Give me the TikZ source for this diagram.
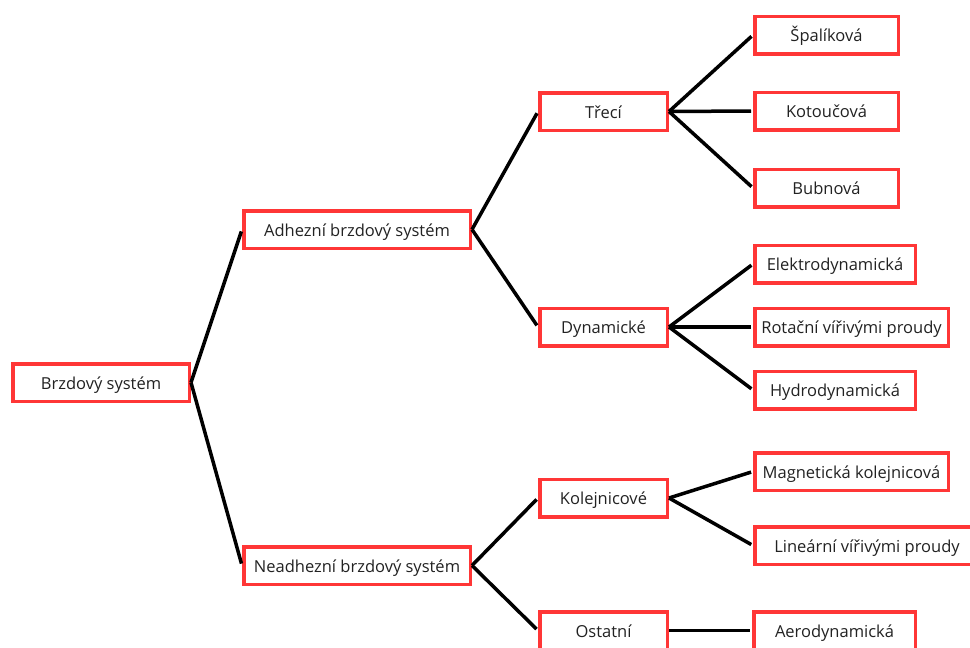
\documentclass[tikz,border=0pt]{standalone}
\usepackage{fontspec}
\setmainfont{Open Sans}
\begin{document}
\begin{tikzpicture}[x=1pt,y=-1pt,
  box/.style={draw=boxred, line width=3.5pt, fill=white, inner sep=0pt,
    minimum height=37.5pt, text height=13pt, text depth=0pt,
    text=textgray, font=\fontsize{16.5}{19}\selectfont},
  link/.style={line width=3.5pt, black, shorten >=2pt}]
\definecolor{boxred}{HTML}{FF3636}
\definecolor{textgray}{HTML}{222222}
\useasboundingbox (0,0) rectangle (970,648);
\clip (0,0) rectangle (970,648);
% root
\node[box, minimum width=176.5pt] (root) at (101,382.5) {Brzdový systém};
% first level
\node[box, minimum width=226.5pt] (adh) at (357,229.5) {Adhezní brzdový systém};
\node[box, minimum width=226.5pt] (neadh) at (357,565.5) {Neadhezní brzdový systém};
% second level
\node[box, minimum width=127.5pt] (treci) at (603.5,111.5) {Třecí};
\node[box, minimum width=127.5pt] (dyn) at (603.5,327) {Dynamické};
\node[box, minimum width=127.5pt] (kol) at (603.5,498) {Kolejnicové};
\node[box, minimum width=127.5pt] (ost) at (603.5,630.5) {Ostatní};
% leaves
\node[box, minimum width=143.5pt] (spal) at (826.5,35) {Špalíková};
\node[box, minimum width=143.5pt] (kot) at (826.5,111) {Kotoučová};
\node[box, minimum width=143.5pt] (bub) at (826.5,188) {Bubnová};
\node[box, minimum width=160.5pt] (elek) at (835,264) {Elektrodynamická};
\node[box, minimum width=193.5pt] (rot) at (851.5,327) {Rotační vířivými proudy};
\node[box, minimum width=160.5pt] (hydro) at (835,390) {Hydrodynamická};
\node[box, minimum width=193.5pt] (mag) at (851.5,471.5) {Magnetická kolejnicová};
\node[box, minimum width=224.5pt] (lin) at (867,545.5) {Lineární vířivými proudy};
\node[box, minimum width=161.5pt] (aero) at (834.5,630.5) {Aerodynamická};
% connectors
\foreach \p/\c in {root/adh, root/neadh, adh/treci, adh/dyn, neadh/kol, neadh/ost,
  treci/spal, treci/kot, treci/bub, dyn/elek, dyn/rot, dyn/hydro,
  kol/mag, kol/lin, ost/aero}
  \draw[link] (\p.east) -- (\c.west);
\end{tikzpicture}
\end{document}
